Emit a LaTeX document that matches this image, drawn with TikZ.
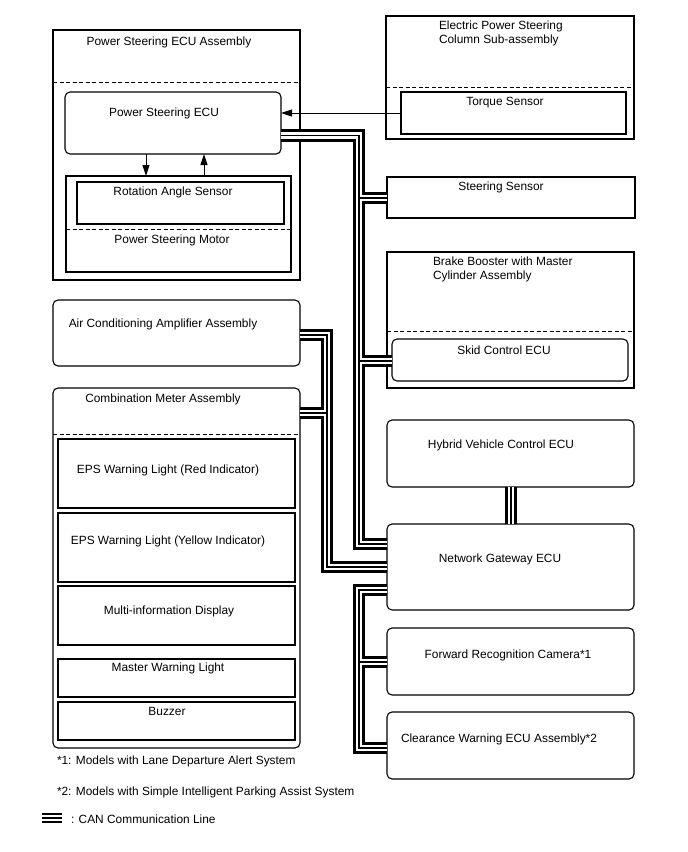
\documentclass[tikz,border=0pt]{standalone}
\usepackage{fontspec}
\setmainfont{Liberation Sans}
\usetikzlibrary{fit,arrows.meta}
\begin{document}
\begin{tikzpicture}[x=1pt,y=-1pt,
  bx/.style={draw, line width=1.1pt, inner sep=0pt, outer sep=0pt},
  rbx/.style={bx, rounded corners=5pt},
  dsh/.style={line width=1pt, dash pattern=on 4pt off 2.5pt},
  lbl/.style={inner sep=0pt, outer sep=0pt, font=\fontsize{11.9}{14}\selectfont, anchor=base},
  lbll/.style={lbl, anchor=base west},
  lbl2/.style={lbl, anchor=north west, align=left},
  arr/.style={line width=1pt, -{Triangle[length=11pt,width=7pt]}},
]
\useasboundingbox (0,0) rectangle (688,852);

% ---------- boxes ----------
\node[bx,  fit={(53,30) (300,280)}]   (psasm) {};
\node[rbx, fit={(65,92) (281,154)}]   (psecu) {};
\node[bx,  fit={(66,176) (291,272)}]  (psmotor) {};
\node[bx,  fit={(77,182) (284,224)}]  (ras) {};
\node[bx,  fit={(386,16) (634,139)}]  (epsc) {};
\node[bx,  fit={(401,92) (626,134)}]  (torque) {};
\node[bx,  fit={(387,177) (635,218)}] (steer) {};
\node[bx,  fit={(387,252) (634,388)}] (brake) {};
\node[rbx, fit={(392,339) (628,381)}] (skid) {};
\node[rbx, fit={(387,420) (634,487)}] (hv) {};
\node[rbx, fit={(387,524) (634,610)}] (gw) {};
\node[rbx, fit={(387,628) (634,695)}] (fwd) {};
\node[rbx, fit={(387,712) (634,779)}] (clr) {};
\node[rbx, fit={(53,300) (300,366)}]  (ac) {};
\node[rbx, fit={(53,388) (300,748)}]  (comb) {};
\node[bx,  fit={(58,439) (295,508)}]  (red) {};
\node[bx,  fit={(58,513) (295,582)}]  (yel) {};
\node[bx,  fit={(58,586) (295,645)}]  (mid) {};
\node[bx,  fit={(58,659) (295,697)}]  (mwl) {};
\node[bx,  fit={(58,702) (295,740)}]  (buz) {};

% ---------- dashed separators ----------
\coordinate (d1) at (0,82);
\coordinate (d2) at (0,229);
\coordinate (d3) at (0,87);
\coordinate (d4) at (0,331);
\coordinate (d5) at (0,434);
\draw[dsh] (psasm.west |- d1) -- (psasm.east |- d1);
\draw[dsh] (psmotor.west |- d2) -- (psmotor.east |- d2);
\draw[dsh] (epsc.west |- d3) -- (epsc.east |- d3);
\draw[dsh] (brake.west |- d4) -- (brake.east |- d4);
\draw[dsh] (comb.west |- d5) -- (comb.east |- d5);

% ---------- labels ----------
\node[lbl] (t1) at (169,45.3) {Power Steering ECU Assembly};
\node[lbl] (t2) at (164,116.3) {Power Steering ECU};
\node[lbl] (t3) at (173,195.3) {Rotation Angle Sensor};
\node[lbl] (t4) at (172,243.3) {Power Steering Motor};
\node[lbl2] (t5) at (439,20.7) {Electric Power Steering\\Column Sub-assembly};
\node[lbl] (t6) at (505,105.3) {Torque Sensor};
\node[lbl] (t7) at (501,190.3) {Steering Sensor};
\node[lbl2] (t8) at (433,256.7) {Brake Booster with Master\\Cylinder Assembly};
\node[lbl] (t9) at (504,354.3) {Skid Control ECU};
\node[lbl] (t10) at (501,448.3) {Hybrid Vehicle Control ECU};
\node[lbl] (t11) at (500,562.3) {Network Gateway ECU};
\node[lbl] (t12) at (508,658.3) {Forward Recognition Camera*1};
\node[lbl] (t13) at (499,742.3) {Clearance Warning ECU Assembly*2};
\node[lbl] (t14) at (163,327.3) {Air Conditioning Amplifier Assembly};
\node[lbl] (t15) at (163,402.3) {Combination Meter Assembly};
\node[lbl] (t16) at (168,473.3) {EPS Warning Light (Red Indicator)};
\node[lbl] (t17) at (168,544.3) {EPS Warning Light (Yellow Indicator)};
\node[lbl] (t18) at (169,614.3) {Multi-information Display};
\node[lbl] (t19) at (168,671.3) {Master Warning Light};
\node[lbl] (t20) at (167,715.3) {Buzzer};
\node[lbll] (n1) at (57,764.3) {*1: Models with Lane Departure Alert System};
\node[lbll] (n2) at (57,795.3) {*2: Models with Simple Intelligent Parking Assist System};
\node[lbll] (n3) at (71,823.3) {: CAN Communication Line};

% ---------- signal arrows ----------
\coordinate (ax1) at (146,0);
\coordinate (ax2) at (204,0);
\coordinate (ay1) at (0,113);
\draw[arr] (psecu.south -| ax1) -- (psmotor.north -| ax1);
\draw[arr] (psmotor.north -| ax2) -- (psecu.south -| ax2);
\draw[arr] (torque.west |- ay1) -- (psecu.east |- ay1);

% ---------- CAN bus ----------
\coordinate (xa) at (359,0);
\coordinate (xb) at (327,0);
\coordinate (xh) at (511,0);
\coordinate (ya) at (0,135.5);
\coordinate (ys) at (0,198);
\coordinate (yk) at (0,361);
\coordinate (yg1) at (0,544);
\coordinate (yb) at (0,335);
\coordinate (yc) at (0,413);
\coordinate (yg2) at (0,567);
\coordinate (yg3) at (0,590);
\coordinate (yf) at (0,662);
\coordinate (yl) at (0,748);
\coordinate (lg1) at (42,818);
\coordinate (lg2) at (62,818);

\foreach \w/\c in {12.5/black,6.5/white,1.2/black}{
  \begin{scope}[line width=\w pt, draw=\c, line join=miter]
    \draw (psecu.east |- ya) -- (xa |- ya) -- (xa |- yg1) -- (gw.west |- yg1);
    \draw (xa |- ys) -- (steer.west |- ys);
    \draw (xa |- yk) -- (skid.west |- yk);
    \draw (ac.east |- yb) -- (xb |- yb) -- (xb |- yg2) -- (gw.west |- yg2);
    \draw (comb.east |- yc) -- (xb |- yc);
    \draw (hv.south -| xh) -- (gw.north -| xh);
    \draw (gw.west |- yg3) -- (xa |- yg3) -- (xa |- yl) -- (clr.west |- yl);
    \draw (xa |- yf) -- (fwd.west |- yf);
  \end{scope}
}
\foreach \w/\c in {10/black,5.5/white,1.2/black}{
  \draw[line width=\w pt, draw=\c] (lg1) -- (lg2);
}
\end{tikzpicture}
\end{document}
